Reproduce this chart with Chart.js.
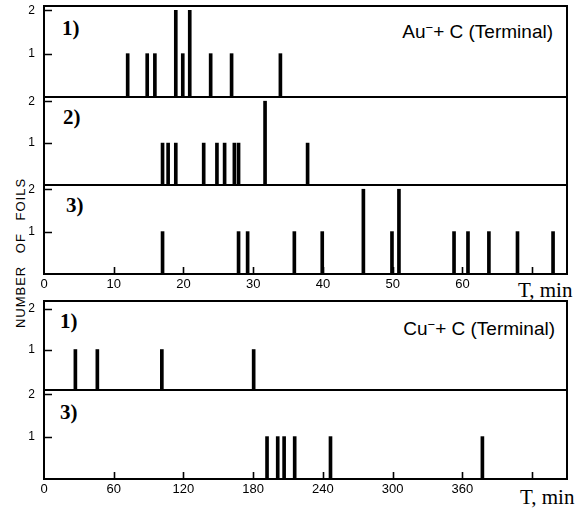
<!DOCTYPE html>
<html lang="en">
<head>
  <meta charset="UTF-8">
  <title>Number of foils vs T</title>
  <style>
    body {
      margin: 0;
      background: #ffffff;
    }
    #page {
      position: relative;
      width: 588px;
      height: 508px;
      overflow: hidden;
      background: #ffffff;
      color: #000000;
    }
    canvas {
      position: absolute;
      left: 0;
    }
    .tag {
      position: absolute;
      font-family: "Liberation Serif", "Times New Roman", serif;
      font-weight: bold;
      font-size: 21px;
      line-height: 1;
    }
    .beam {
      position: absolute;
      font-family: "Liberation Sans", Arial, sans-serif;
      font-size: 19px;
      line-height: 1;
      white-space: nowrap;
    }
    .beam sup {
      font-size: 13px;
      vertical-align: 6px;
      line-height: 0;
    }
    .unit {
      position: absolute;
      font-family: "Liberation Serif", "Times New Roman", serif;
      font-size: 21px;
      line-height: 1;
      white-space: nowrap;
    }
    #ytitle {
      position: absolute;
      left: 20px;
      top: 253px;
      transform: translate(-50%, -50%) rotate(-90deg);
      font-family: "Liberation Sans", Arial, sans-serif;
      font-size: 13px;
      letter-spacing: 1px;
      word-spacing: 8px;
      white-space: nowrap;
    }
  </style>
</head>
<body>
  <div id="page">
    <div id="ytitle">NUMBER OF FOILS</div>

    <div class="tag" style="left:62px; top:18px;">1)</div>
    <div class="tag" style="left:63px; top:107px;">2)</div>
    <div class="tag" style="left:66px; top:195px;">3)</div>
    <div class="tag" style="left:60px; top:311px;">1)</div>
    <div class="tag" style="left:60px; top:402px;">3)</div>

    <div class="beam" style="right:35px; top:22px;">Au<sup>−</sup>+ C (Terminal)</div>
    <div class="beam" style="right:33px; top:319px;">Cu<sup>−</sup>+ C (Terminal)</div>

    <div class="unit" style="left:518px; top:280px;">T, min</div>
    <div class="unit" style="left:520px; top:487px;">T, min</div>
  </div>

  <script src="https://cdn.jsdelivr.net/npm/chart.js"></script>
  <script>
    // Au- + C : time of each foil (min) and number of foils
    const auT1 = [12, 14.8, 15.9, 18.9, 19.9, 20.9, 23.9, 26.9, 33.9];
    const auN1 = [1, 1, 1, 2, 1, 2, 1, 1, 1];
    const auT2 = [17, 17.8, 18.9, 22.9, 24.8, 25.9, 27.3, 27.9, 31.7, 37.8];
    const auN2 = [1, 1, 1, 1, 1, 1, 1, 1, 2, 1];
    const auT3 = [17, 27.9, 29.2, 35.9, 39.9, 45.8, 49.9, 50.9, 58.8, 60.8, 63.8, 67.9, 73];
    const auN3 = [1, 1, 1, 1, 1, 2, 1, 2, 1, 1, 1, 1, 1];

    // Cu- + C
    const cuT1 = [27, 45.9, 101.4, 180.4];
    const cuN1 = [1, 1, 1, 1];
    const cuT3 = [191.9, 201.1, 206.6, 215.7, 246.5, 377.2];
    const cuN3 = [1, 1, 1, 1, 1, 1];

    // axis ticks
    const auTicks = [0, 10, 20, 30, 40, 50, 60, 70];
    const auTickLabels = ['0', '10', '20', '30', '40', '50', '60', ''];
    const cuTicks = [0, 60, 120, 180, 240, 300, 360, 420];
    const cuTickLabels = ['0', '60', '120', '180', '240', '300', '360', ''];
    const yTicks = [1, 2];
    const yTickLabels = ['1', '2'];

    const PAD = 8;   // canvas space above/below the frame
    const XH = 22;   // height of the x axis with labels
    const sans = '"Liberation Sans", Arial, sans-serif';

    // frame round the plot + inward tick marks
    const framePlugin = {
      id: 'frame',
      afterDatasetsDraw(chart, args, opts) {
        const ctx = chart.ctx;
        const a = chart.chartArea;
        const sx = chart.scales.x, sy = chart.scales.y;
        ctx.save();
        ctx.strokeStyle = '#000';
        ctx.lineWidth = 1.6;
        ctx.beginPath();
        sy.ticks.forEach(t => {
          const y = Math.round(sy.getPixelForValue(t.value)) + 0.5;
          ctx.moveTo(a.left, y);
          ctx.lineTo(a.left + 8, y);
        });
        if (opts.xTicks) {
          sx.ticks.forEach(t => {
            if (t.value === 0) return;
            const x = Math.round(sx.getPixelForValue(t.value)) + 0.5;
            ctx.moveTo(x, a.bottom);
            ctx.lineTo(x, a.bottom - 7);
          });
        }
        ctx.stroke();
        ctx.lineWidth = 2;
        ctx.strokeRect(a.left, a.top, a.right - a.left, a.bottom - a.top);
        ctx.restore();
      }
    };

    function makePanel(top, bottom, times, counts, opt) {
      const showX = !!opt.ticks;
      const h = (bottom - top) + PAD + (showX ? XH : PAD);
      const cv = document.createElement('canvas');
      cv.width = 588;
      cv.height = h;
      cv.style.top = (top - PAD) + 'px';
      document.getElementById('page').appendChild(cv);

      const pts = times.map((t, i) => ({ x: t, y: counts[i] }));

      return new Chart(cv.getContext('2d'), {
        type: 'bar',
        data: {
          datasets: [{
            data: pts,
            backgroundColor: '#000000',
            borderWidth: 0,
            barThickness: 3
          }]
        },
        options: {
          responsive: false,
          animation: false,
          layout: { padding: { top: PAD, bottom: showX ? 0 : PAD, left: 0, right: 21 } },
          plugins: {
            legend: { display: false },
            tooltip: { enabled: false },
            frame: { xTicks: showX }
          },
          scales: {
            x: {
              type: 'linear',
              offset: false,
              min: 0,
              max: opt.xMax,
              display: showX,
              grid: { display: false, drawTicks: false },
              border: { display: false },
              afterBuildTicks: s => { if (showX) s.ticks = opt.ticks.map(v => ({ value: v })); },
              afterFit: s => {
                s.height = showX ? XH : 0;
                s.paddingLeft = 0; s.paddingRight = 0;
              },
              ticks: {
                autoSkip: false,
                maxRotation: 0,
                padding: 3,
                color: '#000',
                font: { family: sans, size: 13 },
                callback: (v) => {
                  const i = opt.ticks ? opt.ticks.indexOf(v) : -1;
                  return i >= 0 ? opt.labels[i] : '';
                }
              }
            },
            y: {
              min: 0,
              max: opt.yMax,
              grid: { display: false, drawTicks: false },
              border: { display: false },
              afterBuildTicks: s => { s.ticks = yTicks.map(v => ({ value: v })); },
              afterFit: s => { s.width = 44; s.paddingTop = 0; s.paddingBottom = 0; },
              ticks: {
                padding: 9,
                color: '#000',
                font: { family: sans, size: 12 },
                callback: (v) => yTickLabels[yTicks.indexOf(v)]
              }
            }
          }
        },
        plugins: [framePlugin]
      });
    }

    // upper block, Au- + C
    makePanel(6, 97, auT1, auN1, { xMax: 75, yMax: 2.1 });
    makePanel(97, 185, auT2, auN2, { xMax: 75, yMax: 2.1 });
    makePanel(185, 274, auT3, auN3, { xMax: 75, yMax: 2.1, ticks: auTicks, labels: auTickLabels });

    // lower block, Cu- + C
    makePanel(301, 390, cuT1, cuN1, { xMax: 450, yMax: 2.2 });
    makePanel(390, 479, cuT3, cuN3, { xMax: 450, yMax: 2.1, ticks: cuTicks, labels: cuTickLabels });
  </script>
</body>
</html>
